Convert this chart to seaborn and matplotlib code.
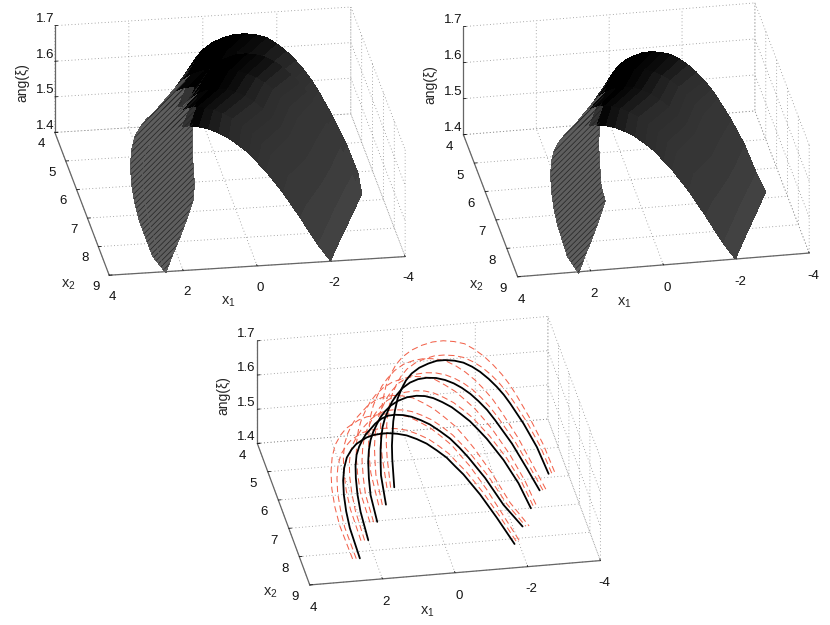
import numpy as np
import matplotlib
matplotlib.use("Agg")
import matplotlib.pyplot as plt
import seaborn as sns
from mpl_toolkits.mplot3d import proj3d

# ---- data -----------------------------------------------------------------
x2_arcs = [5.0, 5.6, 6.2, 6.8, 7.4]

x1_a = [0.519, 0.574, 0.583, 0.565, 0.546, 0.50, 0.427, 0.316, 0.197, 0.04, -0.171, -0.42, -0.649, -0.88, -1.137, -1.385, -1.624, -1.845, -2.084, -2.305, -2.498, -2.673, -3.04, -3.408, -3.73]
z_a = [1.3235, 1.407, 1.446, 1.485, 1.517, 1.548, 1.582, 1.61, 1.633, 1.652, 1.667, 1.677, 1.683, 1.683, 1.679, 1.671, 1.657, 1.64, 1.617, 1.592, 1.567, 1.54, 1.478, 1.406, 1.325]
x1_b = [0.921, 1.058, 1.068, 1.068, 1.05, 1.013, 0.949, 0.857, 0.756, 0.627, 0.462, 0.259, 0.039, -0.2, -0.458, -0.706, -0.945, -1.166, -1.405, -1.626, -1.865, -2.086, -2.546, -2.96, -3.309]
z_b = [1.326, 1.413, 1.452, 1.491, 1.523, 1.554, 1.579, 1.602, 1.625, 1.644, 1.663, 1.677, 1.685, 1.687, 1.684, 1.676, 1.664, 1.649, 1.629, 1.606, 1.578, 1.546, 1.474, 1.397, 1.33]
x1_c = [1.334, 1.518, 1.564, 1.583, 1.564, 1.518, 1.445, 1.353, 1.251, 1.123, 0.957, 0.755, 0.516, 0.25, 0.019, -0.21, -0.459, -0.716, -0.965, -1.222, -1.452, -1.682, -2.142, -2.556, -2.896]
z_c = [1.329, 1.409, 1.458, 1.507, 1.541, 1.57, 1.593, 1.613, 1.633, 1.65, 1.666, 1.678, 1.686, 1.688, 1.685, 1.677, 1.663, 1.646, 1.624, 1.60, 1.573, 1.545, 1.479, 1.407, 1.331]
x1_d = [1.755, 1.967, 2.05, 2.096, 2.105, 2.077, 2.004, 1.912, 1.82, 1.71, 1.562, 1.387, 1.204, 1.02, 0.79, 0.56, 0.312, 0.056, -0.22, -0.496, -0.754, -1.003, -1.463, -1.968, -2.493]
z_d = [1.329, 1.414, 1.464, 1.513, 1.55, 1.581, 1.605, 1.624, 1.639, 1.651, 1.668, 1.681, 1.688, 1.689, 1.686, 1.679, 1.667, 1.652, 1.63, 1.606, 1.577, 1.546, 1.482, 1.399, 1.331]
x1_e = [2.159, 2.435, 2.536, 2.60, 2.619, 2.591, 2.518, 2.389, 2.26, 2.113, 1.966, 1.791, 1.589, 1.377, 1.129, 0.872, 0.596, 0.32, 0.044, -0.232, -0.462, -0.692, -1.152, -1.612, -2.099]
z_e = [1.329, 1.42, 1.47, 1.519, 1.561, 1.597, 1.627, 1.649, 1.664, 1.673, 1.681, 1.686, 1.688, 1.688, 1.684, 1.677, 1.664, 1.648, 1.626, 1.602, 1.575, 1.549, 1.486, 1.414, 1.333]

# offsets of the dashed red bounds from the black curves
outer_dx1 = [0.20, 0.28, 0.31, 0.33, 0.335, 0.33, 0.32, 0.30, 0.28, 0.26, 0.22, 0.18, 0.115, 0.05, 0.01, -0.03, -0.065, -0.10, -0.12, -0.14, -0.15, -0.16, -0.17, -0.18, -0.18]
outer_dz = [0.0, 0.01, 0.015, 0.02, 0.028, 0.035, 0.04, 0.045, 0.048, 0.05, 0.053, 0.055, 0.056, 0.057, 0.056, 0.055, 0.05, 0.045, 0.04, 0.035, 0.03, 0.025, 0.015, 0.005, 0.0]
inner_dx1 = [0.10, 0.14, 0.155, 0.17, 0.17, 0.17, 0.16, 0.15, 0.14, 0.13, 0.11, 0.09, 0.06, 0.03, 0.01, -0.01, -0.03, -0.05, -0.06, -0.07, -0.075, -0.08, -0.09, -0.09, -0.09]
inner_dz = [0.0, 0.003, 0.005, 0.006, 0.008, 0.01, 0.011, 0.012, 0.013, 0.014, 0.015, 0.015, 0.015, 0.015, 0.015, 0.015, 0.014, 0.013, 0.012, 0.01, 0.008, 0.007, 0.004, 0.002, 0.0]

# surface legs run further down than the sampled curves
foot_left_x1 = [0.41, 0.75, 1.11, 1.49, 1.85]
foot_right_x1 = [-4.0, -3.61, -3.22, -2.83, -2.45]
foot_left_z = [1.265, 1.265, 1.265, 1.265, 1.265]
foot_right_z = [1.255, 1.258, 1.262, 1.266, 1.27]
surface_dz = [-0.014]
panel_1_foot_shift = [0.15]

# grey level of each strip of the surface, rows rear to front, left foot to right foot
grey_ab = [.37, .37, .37, .37, .37, .37, .37, .37, .30, .04, .0, .0, .0, .0, .02, .04, .07, .11, .15, .18, .19, .2, .21, .22, .24, .26]
grey_bc = [.37, .37, .37, .37, .37, .37, .37, .37, .37, .37, .15, .0, .0, .0, .02, .05, .09, .13, .16, .18, .19, .2, .21, .22, .24, .26]
grey_cd = [.37, .37, .37, .37, .37, .37, .37, .37, .37, .37, .37, .30, .02, .0, .03, .06, .10, .14, .17, .18, .19, .2, .21, .22, .24, .26]
grey_de = [.37, .37, .37, .37, .37, .37, .37, .37, .37, .37, .37, .37, .37, .20, .02, .07, .11, .15, .17, .18, .19, .2, .21, .22, .24, .26]
# number of striped strips per row
striped_strips = [8, 10, 11, 13]

x1_ticks = [-4, -2, 0, 2, 4]
x2_ticks = [4, 5, 6, 7, 8, 9]
z_ticks = [1.4, 1.5, 1.6, 1.7]
x1_arcs = [x1_a, x1_b, x1_c, x1_d, x1_e]
z_arcs = [z_a, z_b, z_c, z_d, z_e]
grey_rows = [grey_ab, grey_bc, grey_cd, grey_de]

# ---- layout of each panel (elev, azim, box, back-left and front-right floor corners in px)
panel_1 = dict(view=(24, 81.2), box=(299.3, 355, 116.8), p0=(55, 132), p1=(405, 257),
               lx=(228, 302), ly=(68, 285), lz=(22, 83))
panel_2 = dict(view=(27.5, 80), box=(296.5, 313, 122), p0=(463.3, 135), p1=(809.3, 252.7),
               lx=(624, 303), ly=(476, 286), lz=(430, 85))
panel_3 = dict(view=(28.4, 80), box=(294.5, 301.5, 116.4), p0=(257.7, 442.3), p1=(600, 561.7),
               lx=(427, 612), ly=(270, 593), lz=(223, 396))

W, H = 830, 625
sns.set_theme(style="white")
plt.rcParams["font.family"] = ["Liberation Sans", "DejaVu Sans"]
plt.rcParams["mathtext.default"] = "regular"
plt.rcParams["axes.unicode_minus"] = False
plt.rcParams["hatch.linewidth"] = 0.5
grey_map = sns.color_palette("gray", as_cmap=True)

fig = plt.figure(figsize=(W / 100, H / 100), dpi=100)


def project(ax, pt):
    X, Y, _ = proj3d.proj_transform(pt[0], pt[1], pt[2], ax.get_proj())
    return ax.transData.transform((X, Y))


def place(ax, p0, p1):
    t0 = np.array([p0[0], H - p0[1]], float)
    t1 = np.array([p1[0], H - p1[1]], float)
    c0, c1 = (4, 4, 1.4), (-4, 9, 1.4)
    s, cx, cy = 400.0, W / 2, H / 2
    for _ in range(3):
        ax.set_position([(cx - s / 2) / W, (cy - s / 2) / H, s / W, s / H])
        ax.apply_aspect()
        a, b = project(ax, c0), project(ax, c1)
        s *= np.linalg.norm(t1 - t0) / np.linalg.norm(b - a)
        ax.set_position([(cx - s / 2) / W, (cy - s / 2) / H, s / W, s / H])
        ax.apply_aspect()
        a, b = project(ax, c0), project(ax, c1)
        shift = ((t0 - a) + (t1 - b)) / 2
        cx += shift[0]
        cy += shift[1]
    ax.set_position([(cx - s / 2) / W, (cy - s / 2) / H, s / W, s / H])


def make_axes(cfg):
    ax = fig.add_axes([0.1, 0.1, 0.5, 0.5], projection="3d", proj_type="ortho", computed_zorder=False)
    ax.patch.set_alpha(0)
    ax.view_init(elev=cfg["view"][0], azim=cfg["view"][1])
    ax.set_box_aspect(cfg["box"])
    ax.set_xlim(-4, 4)
    ax.set_ylim(4, 9)
    ax.set_zlim(1.4, 1.7)
    ax.set_xticks(x1_ticks)
    ax.set_yticks(x2_ticks)
    ax.set_zticks(z_ticks)
    ax.set_zticklabels([f"{v:.1f}" for v in z_ticks])
    for axis in (ax.xaxis, ax.yaxis, ax.zaxis):
        axis.set_pane_color((1, 1, 1, 0))
        axis.pane.set_edgecolor((1, 1, 1, 0))
        axis.line.set_color("#666666")
        axis.line.set_linewidth(0.9)
        axis._axinfo["grid"].update(color="#8c8c8c", linewidth=0.6, linestyle=(0, (1, 3)))
        axis._axinfo["tick"].update(inward_factor=0.0, outward_factor=0.12, linewidth={True: 0.6, False: 0.6})
        axis.set_rotate_label(False)
    ax.zaxis.set_ticks_position("lower")
    ax.tick_params(axis="both", labelsize=9.5, colors="#111111", pad=0)
    ax.tick_params(axis="x", pad=3)
    ax.tick_params(axis="z", pad=-3)
    for tick in ax.zaxis.get_major_ticks():
        tick.label1.set_va("baseline")
    fig.text(cfg["lx"][0] / W, 1 - cfg["lx"][1] / H, "x$_1$", fontsize=10.5, ha="center", va="center")
    fig.text(cfg["ly"][0] / W, 1 - cfg["ly"][1] / H, "x$_2$", fontsize=10.5, ha="center", va="center")
    fig.text(cfg["lz"][0] / W, 1 - cfg["lz"][1] / H, "ang(ξ)", fontsize=10, rotation=90, ha="center", va="center")
    place(ax, cfg["p0"], cfg["p1"])
    return ax


def surface(ax, dx1, dz, zorder, foot_shift=0.0):
    x1 = np.array(x1_arcs) + np.array(dx1)
    z = np.array(z_arcs) + np.array(dz) + surface_dz[0]
    X = np.column_stack([np.array(foot_left_x1) + foot_shift, x1, foot_right_x1])
    Z = np.column_stack([foot_left_z, z, foot_right_z])
    Y = np.tile(np.array(x2_arcs)[:, None], (1, X.shape[1]))
    ax.plot_surface(X, Y, Z, facecolors=grey_map(np.array(grey_rows)), shade=False, rstride=1, cstride=1,
                    linewidth=0.3, edgecolor="none", antialiased=False, zorder=zorder)
    # fine diagonal stripes on the lit left leg
    for r, n in enumerate(striped_strips):
        part = ax.plot_surface(X[r:r + 2, :n + 1], Y[r:r + 2, :n + 1], Z[r:r + 2, :n + 1], color=(0, 0, 0, 0),
                               shade=False, rstride=1, cstride=1, linewidth=0, zorder=zorder + 0.5)
        part.set_facecolor((0, 0, 0, 0))
        part.set_edgecolor("#222222")
        part.set_hatch("//////")


zero = [0.0] * len(outer_dx1)
ax1 = make_axes(panel_1)
surface(ax1, outer_dx1, outer_dz, 3, panel_1_foot_shift[0])
surface(ax1, zero, zero, 4, panel_1_foot_shift[0])

ax2 = make_axes(panel_2)
surface(ax2, zero, zero, 3)

ax3 = make_axes(panel_3)
for x2, x1v, zv in zip(x2_arcs, x1_arcs, z_arcs):
    y = [x2] * len(x1v)
    ax3.plot(np.add(x1v, outer_dx1), y, np.add(zv, outer_dz), color="#f2634c", lw=0.75, dashes=(6, 3.5), zorder=3)
    ax3.plot(np.add(x1v, inner_dx1), y, np.add(zv, inner_dz), color="#f2634c", lw=0.75, dashes=(6, 3.5), zorder=3)
    ax3.plot(x1v, y, zv, color="black", lw=1.3, zorder=4)

fig.savefig("out.png", dpi=100)
